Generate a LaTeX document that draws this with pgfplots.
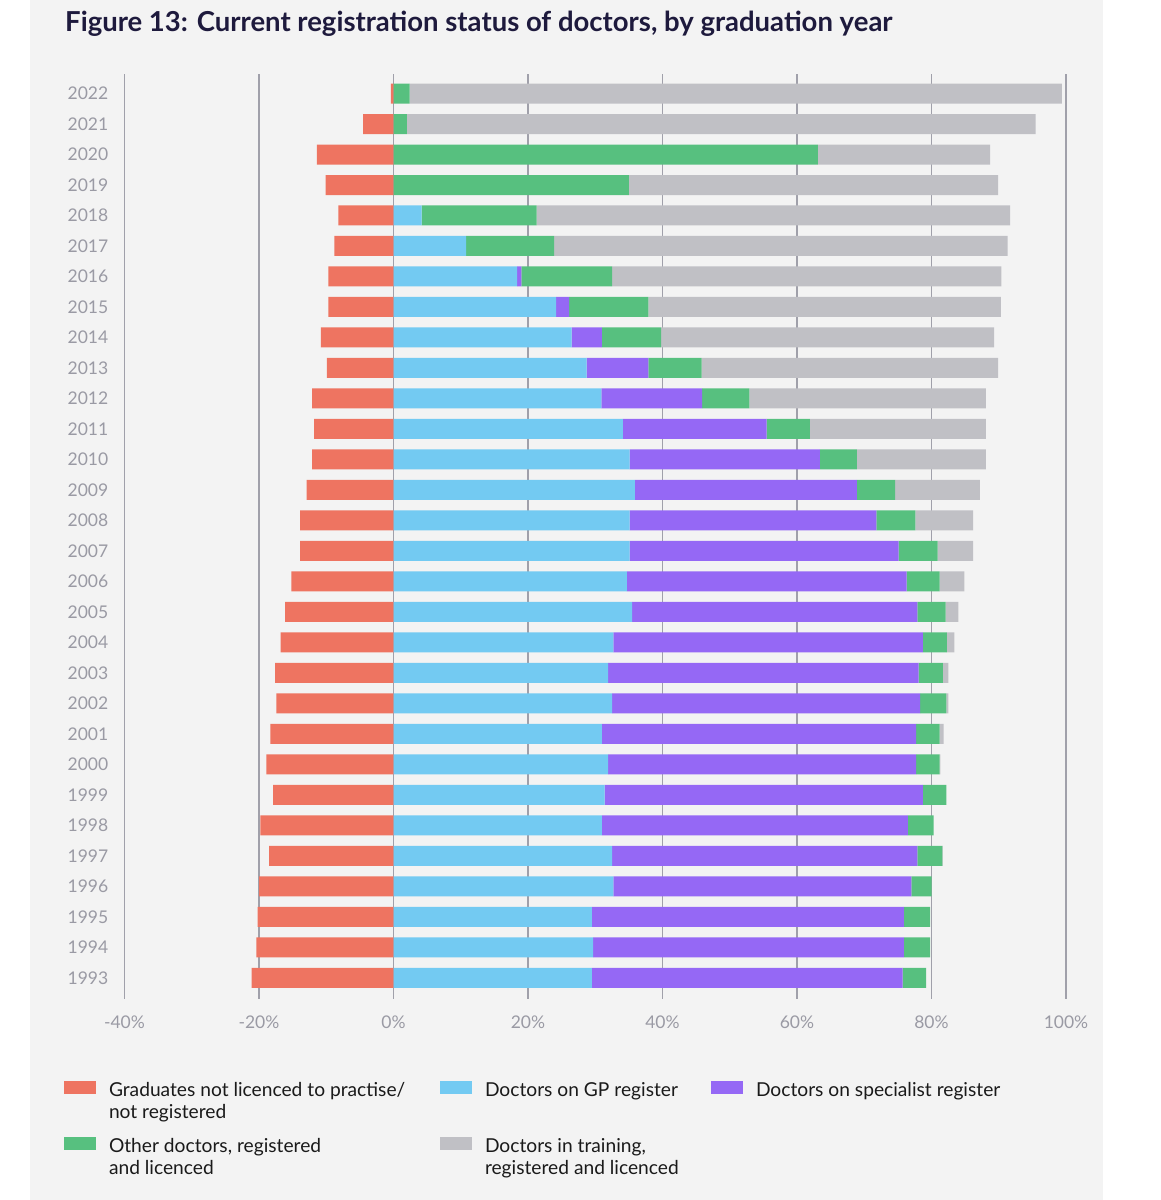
\documentclass[border=0pt]{standalone}
\usepackage{fontspec}
\setmainfont{Lato}
\usepackage{pgfplots}
\usepackage{pgfplotstable}
\pgfplotsset{compat=1.18}

\definecolor{cRed}{HTML}{EE7461}
\definecolor{cBlue}{HTML}{73CAF2}
\definecolor{cPurple}{HTML}{9568F5}
\definecolor{cGreen}{HTML}{57C07F}
\definecolor{cGray}{HTML}{C0C0C5}
\definecolor{cBg}{HTML}{F3F3F3}
\definecolor{cGrid}{HTML}{A0A0AA}
\definecolor{cTick}{HTML}{9A9AA4}
\definecolor{cTitle}{HTML}{1E1A3D}
\definecolor{cLeg}{HTML}{1A1A1A}

\pgfplotstableread{
year neg gp spec other train
2022 -0.4 0 0 2.4 97.0
2021 -4.5 0 0 2.0 93.5
2020 -11.4 0 0 63.1 25.6
2019 -10.1 0 0 35.0 54.9
2018 -8.2 4.2 0 17.1 70.4
2017 -8.8 10.8 0 13.1 67.4
2016 -9.7 18.4 0.6 13.5 57.9
2015 -9.7 24.2 1.9 11.8 52.4
2014 -10.8 26.5 4.5 8.8 49.5
2013 -9.9 28.7 9.2 7.9 44.1
2012 -12.1 30.9 15.0 7.0 35.2
2011 -11.8 34.1 21.4 6.4 26.2
2010 -12.1 35.1 28.3 5.5 19.2
2009 -12.9 35.9 33.0 5.7 12.6
2008 -13.9 35.1 36.7 5.8 8.6
2007 -13.9 35.1 40.0 5.8 5.3
2006 -15.2 34.7 41.6 4.9 3.7
2005 -16.1 35.5 42.4 4.2 1.9
2004 -16.8 32.7 46.0 3.6 1.1
2003 -17.6 31.9 46.2 3.6 0.8
2002 -17.4 32.5 45.8 3.9 0.3
2001 -18.3 31.0 46.7 3.5 0.6
2000 -18.9 31.9 45.8 3.5 0.1
1999 -17.9 31.4 47.3 3.5 0
1998 -19.8 31.0 45.5 3.8 0
1997 -18.5 32.5 45.4 3.7 0.1
1996 -20.0 32.7 44.3 3.0 0
1995 -20.2 29.5 46.4 3.9 0
1994 -20.4 29.7 46.2 3.9 0
1993 -21.1 29.5 46.2 3.5 0
}\datatable

\pgfplotsset{
  geom/.style={
    at={(124.5pt,201pt)}, anchor=south west, scale only axis,
    width=941.5pt, height=925pt,
    xmin=-40, xmax=100, ymin=1992.31, ymax=2022.64,
    enlargelimits=false, bar width=20pt,
  },
  legrow/.style={
    legend image code/.code={\fill[##1] (0pt,-12pt) rectangle (32pt,1pt);},
    legend columns=-1,
    legend style={at={(-0.06426,#1)}, anchor=north west, draw=none, fill=none,
      inner sep=0pt, outer sep=0pt, column sep=13pt,
      cells={anchor=north west},
      nodes={inner sep=0pt, outer sep=0pt, text=cLeg},
      font=\fontsize{19.2}{22}\selectfont},
  },
}

\begin{document}
\begin{tikzpicture}[x=1pt,y=1pt]
\fill[white] (0pt,0pt) rectangle (1161pt,1200pt);
\path[use as bounding box] (0pt,0pt) rectangle (1161pt,1200pt);
\fill[cBg] (30pt,0pt) rectangle (1103pt,1200pt);
\node[anchor=base west, inner sep=0pt, text=cTitle, font=\fontsize{27.5}{32}\selectfont\bfseries] at (65pt,1168pt) {Figure 13: Current registration status of doctors, by graduation year};

\begin{axis}[geom,
  xbar,
  xtick={-40,-20,0,20,40,60,80,100},
  xticklabels={-40\%,-20\%,0\%,20\%,40\%,60\%,80\%,100\%},
  ytick={1993,1994,...,2022},
  /pgf/number format/assume math mode=true,
  /pgf/number format/1000 sep={},
  xmajorgrids,
  major grid style={cGrid, line width=1.5pt},
  axis line style={draw=none},
  major tick length=0pt,
  tick style={draw=none},
  xticklabel style={font=\fontsize{17.5}{20}\selectfont, text=cTick, inner sep=0pt, yshift=-17pt},
  yticklabel style={font=\fontsize{17.5}{20}\selectfont, text=cTick, inner sep=0pt, xshift=-16pt},
]
\addplot[fill=cRed, draw=none, bar shift=0pt] table[x=neg, y=year] {\datatable};
\end{axis}

\begin{axis}[geom,
  xbar stacked,
  hide axis,
  legrow=-0.08865,
]
\addlegendimage{fill=cRed, draw=none}
\addlegendentry{\parbox[t]{318pt}{Graduates not licenced to practise/\\not registered}}
\addplot[fill=cBlue, draw=none] table[x=gp, y=year] {\datatable};
\addlegendentry{\parbox[t]{213pt}{Doctors on GP register}}
\addplot[fill=cPurple, draw=none] table[x=spec, y=year] {\datatable};
\addlegendentry{\parbox[t]{260pt}{Doctors on specialist register}}
\addplot[fill=cGreen, draw=none] table[x=other, y=year] {\datatable};
\addplot[fill=cGray, draw=none] table[x=train, y=year] {\datatable};
\end{axis}

\begin{axis}[geom,
  hide axis,
  legrow=-0.14919,
]
\addlegendimage{fill=cGreen, draw=none}
\addlegendentry{\parbox[t]{318pt}{Other doctors, registered\\and licenced}}
\addlegendimage{fill=cGray, draw=none}
\addlegendentry{\parbox[t]{213pt}{Doctors in training,\\registered and licenced}}
\end{axis}
\end{tikzpicture}
\end{document}
